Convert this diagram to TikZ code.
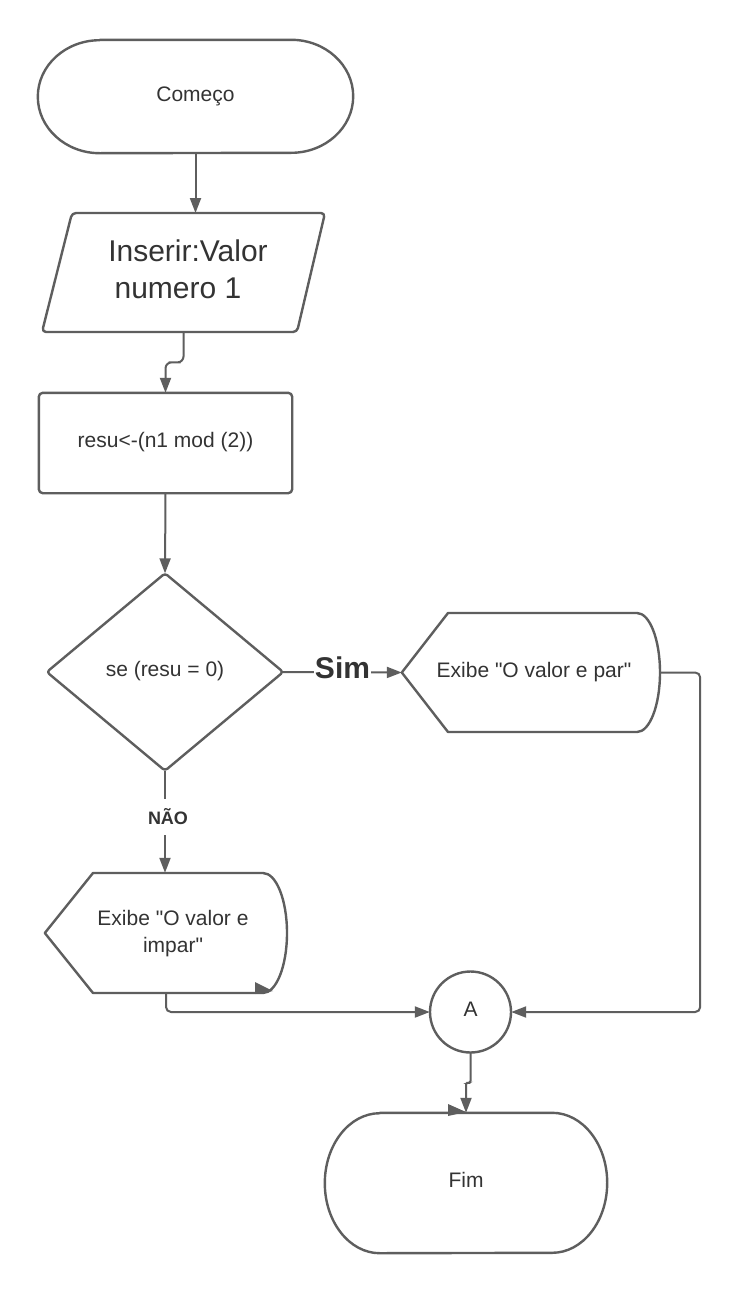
\documentclass[tikz,border=0pt]{standalone}
\usepackage{fontspec}
\setmainfont{Liberation Sans}[Ligatures=TeXOff]
\usetikzlibrary{arrows.meta,calc}
\definecolor{lncol}{HTML}{5E5E5E}
\definecolor{txcol}{HTML}{333333}
\begin{document}
\begin{tikzpicture}[x=1pt,y=-1pt,
  every node/.style={text=txcol, font=\fontsize{21}{27}\selectfont, inner sep=0pt},
  oneline/.style={text height=0.95em, text depth=0.05em},
  shp/.style={draw=lncol, line width=2.4pt, line join=round},
  arr/.style={draw=lncol, line width=2pt, -{Triangle[length=15pt,width=11pt]}},
  lbl/.style={fill=white, font=\fontsize{#1}{#1}\selectfont\bfseries, inner xsep=1pt}
]
\useasboundingbox[fill=white] (0,0) rectangle (742,1293);

% ---------- nodes ----------
\node[oneline, minimum width=315, minimum height=113] (start) at (195.5,96.5) {Começo};
\node[align=center, font=\fontsize{30}{37}\selectfont] (inp) at (188,269) {Inserir:Valor\\numero 1\hspace*{20pt}};
\coordinate (inpS) at (183.5,332);
\coordinate (inpN) at (195.5,213);
\node[oneline, minimum width=253, minimum height=100] (proc) at (165.5,443) {resu<-(n1 mod (2))};
\node[oneline, minimum width=236, minimum height=197] (dec) at (165,672) {se (resu = 0)};
\node[oneline, minimum width=258, minimum height=119] (par) at (531,672.5) {};
\node[oneline] at (534,672.5) {Exibe "O valor e par"};
\node[minimum width=242, minimum height=120] (impar) at (166,933) {};
\node[align=center] at (173,933.5) {Exibe "O valor e\\impar"};
\node[oneline, circle, minimum size=81] (A) at (470.5,1012) {A};
\node[oneline, minimum width=282, minimum height=140] (fim) at (466,1183) {Fim};

% ---------- shapes ----------
\draw[shp] ($(start.north west)+(62,0)$) -- ($(start.north east)+(-62,0)$)
  arc[start angle=90, end angle=-90, x radius=62pt, y radius=56.5pt]
  -- ($(start.south west)+(62,0)$)
  arc[start angle=270, end angle=90, x radius=62pt, y radius=56.5pt] -- cycle;

\draw[shp, rounded corners=4pt] (72,213) -- (325,213) -- (297,332) -- (42,332) -- cycle;

\draw[shp, rounded corners=4pt] (proc.south west) rectangle (proc.north east);

\draw[shp, rounded corners=3pt] (dec.north) -- (dec.east) -- (dec.south) -- (dec.west) -- cycle;

\draw[shp] (par.west) -- (448,613) -- (637,613)
  arc[start angle=90, end angle=-90, x radius=23pt, y radius=59.5pt]
  -- (448,732) -- cycle;

\draw[shp] (impar.west) -- (93,873) -- (263,873)
  arc[start angle=90, end angle=-90, x radius=24pt, y radius=60pt]
  -- (93,993) -- cycle;

\draw[shp] (A) circle[radius=40.5pt];

\draw[shp] ($(fim.north west)+(55,0)$) -- ($(fim.north east)+(-55,0)$)
  arc[start angle=90, end angle=-90, x radius=55pt, y radius=70pt]
  -- ($(fim.south west)+(55,0)$)
  arc[start angle=270, end angle=90, x radius=55pt, y radius=70pt] -- cycle;

% stray arrowheads
\fill[lncol] (255,982) -- (273,991) -- (255,994) -- cycle;
\fill[lncol] (448,1104) -- (466,1112) -- (448,1116) -- cycle;

% ---------- connectors ----------
\draw[arr] (start.south) -- (inpN);
\draw[arr, rounded corners=6pt] (inpS) |- ($(inpS)!0.5!(proc.north)$) -| (proc.north);
\draw[arr] (proc.south) -- (dec.north);
\draw[arr] (dec.east) -- node[lbl=30, yshift=4pt] {Sim} (par.west);
\draw[arr] (dec.south) -- node[lbl=18, minimum height=36, xshift=3pt, yshift=5pt] {NÃO} (dec.south |- impar.north);
\draw[arr, rounded corners=5pt] (impar.south) |- (A.west);
\draw[arr, rounded corners=5pt] (par.east) -- ++(40,0) |- (A.east);
\draw[arr, rounded corners=2pt] (A.south) |- ($(A.south)!0.5!(fim.north)$) -| (fim.north);
\end{tikzpicture}
\end{document}
